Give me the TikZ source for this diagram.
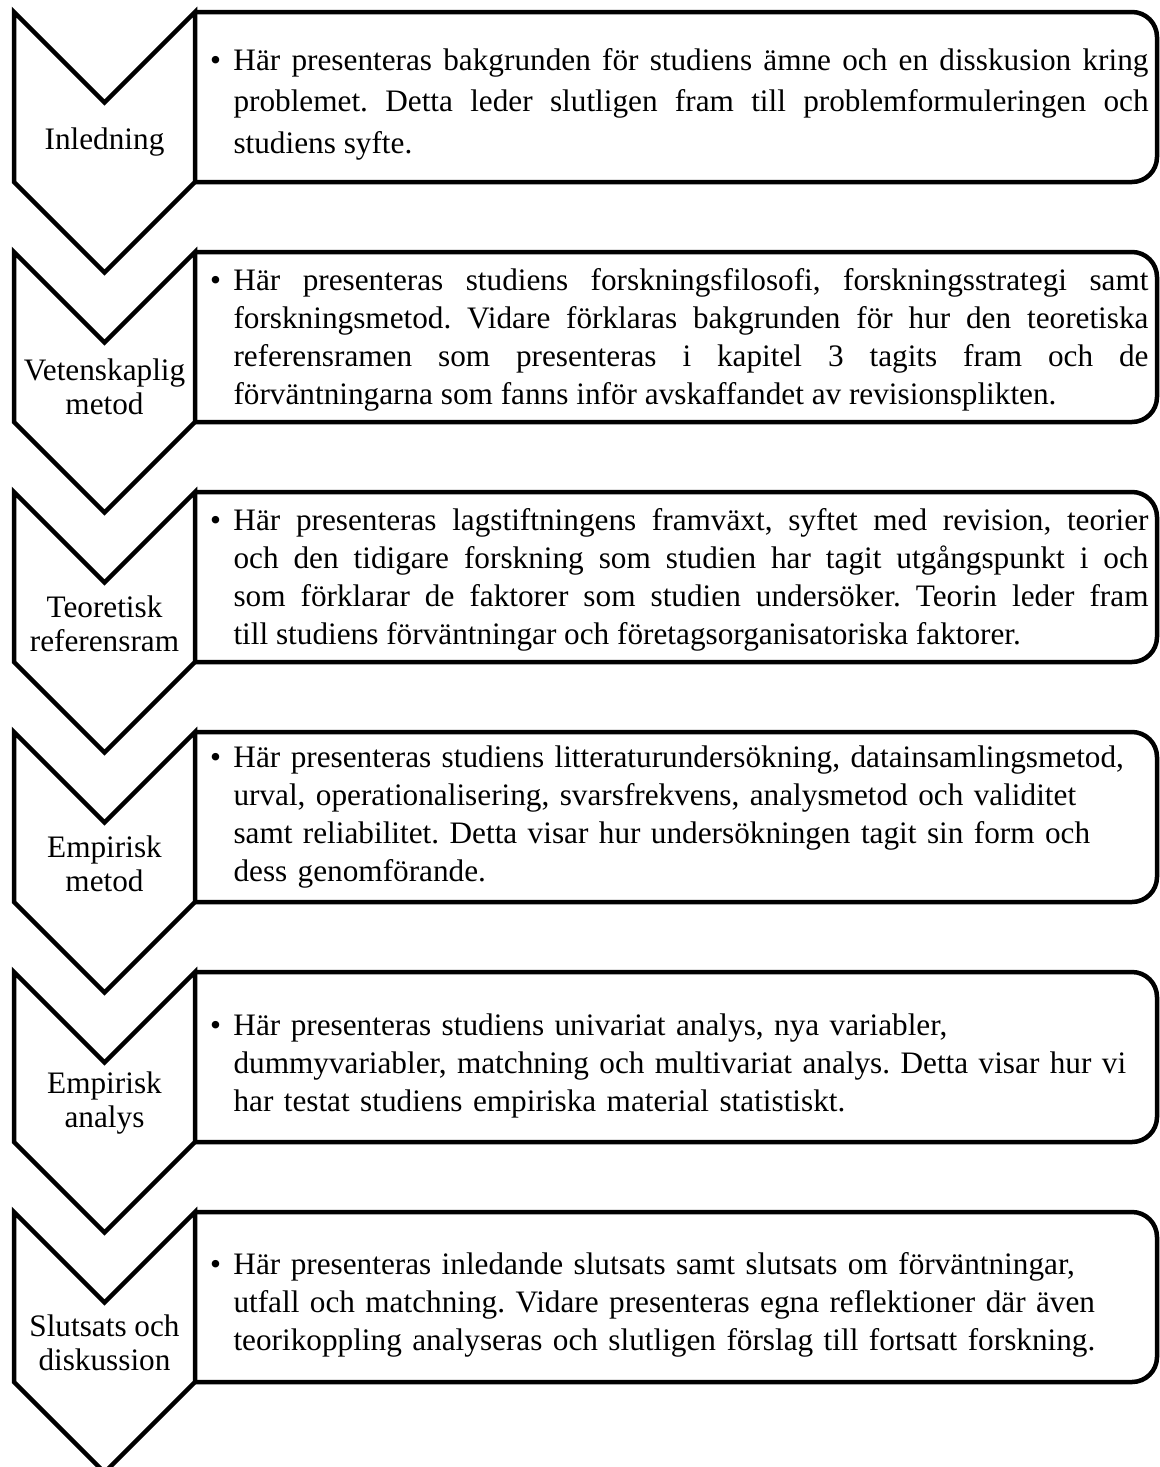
\documentclass[tikz,border=0pt]{standalone}
\usepackage{fontspec}
\setmainfont{Liberation Serif}
\usetikzlibrary{positioning}
\frenchspacing

\begin{document}
\begin{tikzpicture}[
  x=0.4pt, y=-0.4pt,
  frame/.style={draw=black, line width=1.8pt, line join=miter},
  phase/.style={font=\fontsize{12.5}{13.4}\selectfont, align=center, inner sep=0pt},
  info/.style={font=\fontsize{12.5}{15.2}\selectfont, text width=366pt,
               anchor=west, inner sep=0pt}
]
  \useasboundingbox (0,0) rectangle (1160,1467);

  % Chevrons and their boxes
  \foreach \t in {12,252,492,732,972,1212}{
    \draw[frame] (14,\t) -- (104.5,\t+90.5) -- (195,\t) -- (195,\t+170)
      -- (104.5,\t+260.5) -- (14,\t+170) -- cycle;
    \draw[frame, rounded corners=10pt] (195,\t) -- (1157,\t) -- (1157,\t+170) -- (195,\t+170);
  }

  % Left: chapter names
  \node[phase] (intro)  at (104.5,142) {Inledning};
  \node[phase] (method) at (104.5,387) {Vetenskaplig\\metod};
  \node[phase] (theory) at (104.5,624) {Teoretisk\\referensram};
  \node[phase] (empmet) at (104.5,864) {Empirisk\\metod};
  \node[phase] (empana) at (104.5,1103) {Empirisk\\analys};
  \node[phase] (concl)  at (104.5,1343) {Slutsats och\\diskussion};

  % Right: chapter contents
  \node[info, align=justify, font=\fontsize{12.5}{16.6}\selectfont] (introtxt) at (233,104)
    {\leavevmode\llap{\textbullet\hspace{5pt}}Här presenteras bakgrunden för studiens ämne och en disskusion kring\linebreak
     problemet. Detta leder slutligen fram till problemformuleringen och\linebreak
     studiens syfte.};
  \node[info, align=justify] (methodtxt) at (233,340)
    {\leavevmode\llap{\textbullet\hspace{5pt}}Här presenteras studiens forskningsfilosofi, forskningsstrategi samt\linebreak
     forskningsmetod. Vidare förklaras bakgrunden för hur den teoretiska\linebreak
     referensramen som presenteras i kapitel 3 tagits fram och de\linebreak
     förväntningarna som fanns inför avskaffandet av revisionsplikten.};
  \node[info, align=justify] (theorytxt) at (233,580)
    {\leavevmode\llap{\textbullet\hspace{5pt}}Här presenteras lagstiftningens framväxt, syftet med revision, teorier\linebreak
     och den tidigare forskning som studien har tagit utgångspunkt i och\linebreak
     som förklarar de faktorer som studien undersöker. Teorin leder fram\linebreak
     till studiens förväntningar och företagsorganisatoriska faktorer.};
  \node[info, align=left] (empmettxt) at (233,817)
    {\leavevmode\llap{\textbullet\hspace{5pt}}Här presenteras studiens litteraturundersökning, datainsamlingsmetod,\\
     urval, operationalisering, svarsfrekvens, analysmetod och validitet\\
     samt reliabilitet. Detta visar hur undersökningen tagit sin form och\\
     dess genomförande.};
  \node[info, align=left] (empanatxt) at (233,1066)
    {\leavevmode\llap{\textbullet\hspace{5pt}}Här presenteras studiens univariat analys, nya variabler,\\
     dummyvariabler, matchning och multivariat analys. Detta visar hur vi\\
     har testat studiens empiriska material statistiskt.};
  \node[info, align=left] (concltxt) at (233,1305)
    {\leavevmode\llap{\textbullet\hspace{5pt}}Här presenteras inledande slutsats samt slutsats om förväntningar,\\
     utfall och matchning. Vidare presenteras egna reflektioner där även\\
     teorikoppling analyseras och slutligen förslag till fortsatt forskning.};
\end{tikzpicture}
\end{document}
